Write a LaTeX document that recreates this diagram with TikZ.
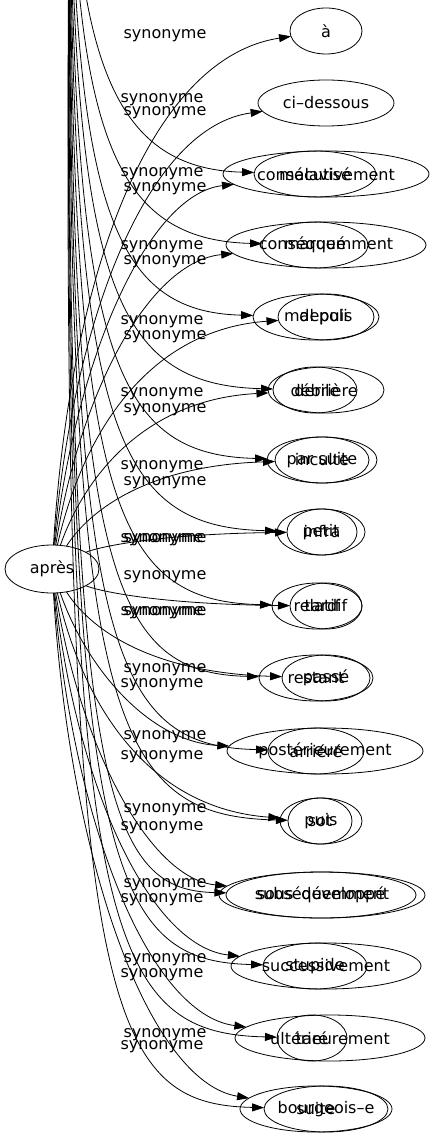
\documentclass[tikz,border=0pt]{standalone}
\usepackage{fontspec}
\setmainfont{DejaVu Sans}
\usepackage{tikz}
\usetikzlibrary{shapes.geometric}
\usetikzlibrary{arrows.meta}
\tikzset{word/.style = {draw, ellipse, line width=0.8pt, inner sep=0, outer sep=0, minimum height=46pt, font=\fontsize{16}{16}\selectfont},
  syn/.style = {-{Triangle[length=12pt, width=8pt]}, line width=0.8pt},
  lab/.style = {inner sep=0, font=\fontsize{16}{16}\selectfont}}
\newcommand{\nowide}[1]{\makebox[0pt]{#1}}

\begin{document}
\begin{tikzpicture}[x=1pt, y=-1pt]
    \useasboundingbox (0, 0) rectangle (433, 1139);
    \clip (0, 0) rectangle (433, 1139);

    \node [word, minimum width=94pt, minimum height=48pt] (apres) at (52, 569) {\nowide{après}};
    \coordinate (srcB) at (70, -200);

    % first set, from apres
    \foreach \i/\y/\px/\d/\t in {1/31/326/72/à, 2/103/326/136/ci–dessous, 3/174/326/206/consécutivement,
      4/245/326/200/conséquemment, 5/317/326/96/depuis, 6/390/326/116/derrière, 7/460/322/94/par suite,
      8/532/322/70/infra, 9/606/326/72/tardif, 10/678/326/88/passé, 11/751/325/196/postérieurement,
      12/821/321/82/puis, 13/895/322/206/subséquemment, 14/966/326/190/successivement,
      15/1038/330/190/ultérieurement, 16/1109/316/152/suite} {
      \node [word, minimum width=\d pt] (a\i) at (\px, \y) {\nowide{\t}};
      \draw [syn] (apres) .. controls ({95-25*abs(\y-569)/540}, {569+0.55*(\y-569)}) and (150, {\y+0.05*(569-\y)}) .. (a\i);
    }

    % second set, from above the frame
    \foreach \i/\y/\px/\d/\t in {3/174/315/122/malavisé, 4/245/315/106/marqué, 5/317/316/126/mal poli,
      6/390/315/84/débile, 7/460/322/110/inculte, 8/532/321/88/petit, 9/606/317/90/relatif,
      10/678/316/114/restant, 11/751/316/96/arriéré, 12/821/320/64/sot, 13/895/321/190/sous–développé,
      14/966/315/104/stupide, 15/1038/312/70/taré, 16/1109/326/124/bourgeois–e} {
      \node [word, minimum width=\d pt] (b\i) at (\px, \y) {\nowide{\t}};
      \draw [syn] (srcB) .. controls ({76-1.4*(\i-3)}, {\y-110}) and ({116-1.4*(\i-3)}, {\y-5}) .. (b\i);
    }

    \foreach \lx/\ly [count=\n] in {165/36, 162/100, 165/113, 162/174, 165/189, 162/247, 165/262,
      162/322, 165/337, 162/394, 165/410, 162/467, 165/483, 162/540, 165/540, 165/577, 162/613,
      165/613, 165/670, 162/685, 165/737, 162/757, 165/810, 162/828, 165/885, 162/900, 165/960,
      162/975, 165/1035, 162/1047}
      \node [lab] (l\n) at (\lx, \ly) {synonyme};

\end{tikzpicture}
\end{document}
